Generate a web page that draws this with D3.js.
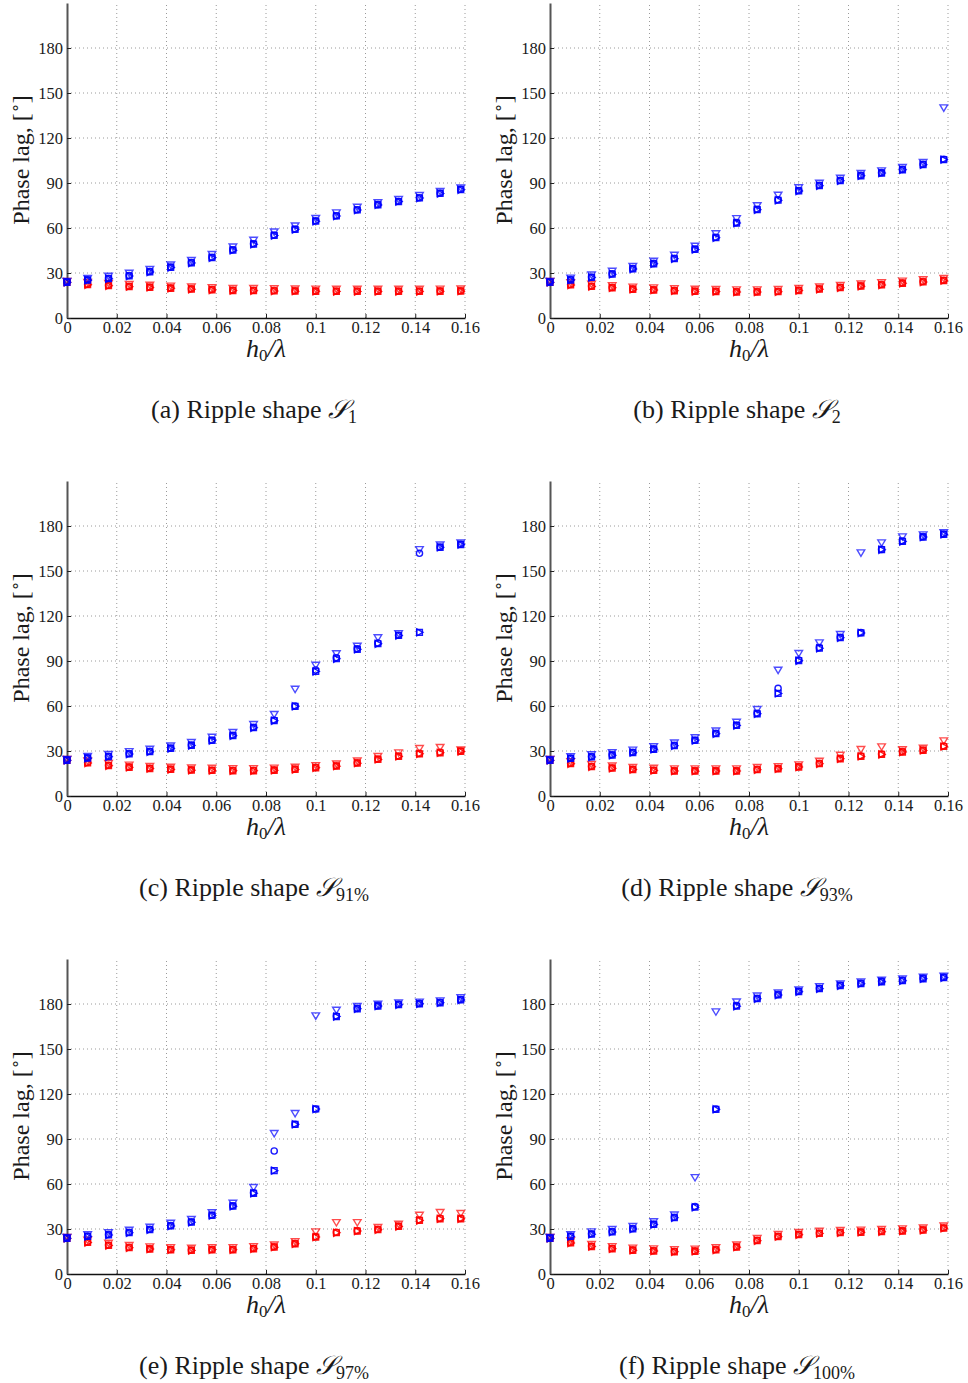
<!DOCTYPE html>
<html>
<head>
<meta charset="utf-8">
<script src="https://cdn.jsdelivr.net/npm/d3@7"></script>
<style>
  html, body { margin: 0; padding: 0; background: #fff; }
  svg { display: block; }
</style>
</head>
<body>
<svg id="fig" width="968" height="1383"></svg>
<script>
// Relative ripple height h0/lambda at which the phase lag was evaluated
const hRatio = [0, 0.0083, 0.0167, 0.025, 0.0333, 0.0417, 0.05, 0.0583, 0.0667, 0.075,
                0.0833, 0.0917, 0.1, 0.1083, 0.1167, 0.125, 0.1333, 0.1417, 0.15, 0.1583];

const xTicks = [0, 0.02, 0.04, 0.06, 0.08, 0.1, 0.12, 0.14, 0.16];
const yTicks = [0, 30, 60, 90, 120, 150, 180];

// Panel (a) ripple shape S1
const aBlueTri  = [24.5, 26.5, 28, 30, 32.5, 35.5, 38.5, 42.5, 47.5, 52, 57.5, 61.5, 66.5, 70.2, 74, 77, 79.2, 81.8, 84.5, 86.8];
const aBlueCirc = [24.2, 25.5, 26.5, 28.3, 31, 34, 37, 40.5, 45.5, 49.5, 55.3, 59.3, 64.8, 68.2, 72.2, 75.6, 77.8, 80.2, 83.3, 85.8];
const aBlueSq   = [23.8, 25.2, 26.2, 28, 30.7, 33.7, 36.7, 40.2, 45.2, 49.2, 55, 59, 64.5, 68, 72, 75.4, 77.6, 80, 83, 85.5];
const aRedTri   = [24.5, 23.8, 23.1, 22.5, 22, 21.4, 20.8, 20.3, 19.9, 19.8, 19.6, 19.5, 19.4, 19.3, 19.3, 19.3, 19.3, 19.3, 19.4, 19.5];
const aRedCirc  = [24.2, 22.5, 21.8, 21.2, 20.7, 20.1, 19.5, 19, 18.6, 18.5, 18.3, 18.2, 18.1, 18, 18, 18, 18, 18, 18.1, 18.2];
const aRedSq    = [23.8, 22.2, 21.5, 20.9, 20.4, 19.8, 19.2, 18.7, 18.3, 18.2, 18, 17.9, 17.8, 17.7, 17.7, 17.7, 17.7, 17.7, 17.8, 17.9];

// Panel (b) ripple shape S2
const bBlueTri  = [24.5, 26.7, 28.8, 31.3, 34.5, 38, 42, 48, 56.3, 66.4, 75, 82, 87, 90, 93.3, 96.5, 98.2, 100.5, 103.8, 140.2];
const bBlueCirc = [24.2, 25.6, 27.3, 29.5, 33, 36.4, 39.8, 46, 53.8, 63.6, 72.5, 78.8, 85, 88.5, 91.8, 95.1, 96.9, 99.1, 102.5, 105.8];
const bBlueSq   = [23.8, 25.3, 27, 29.2, 32.7, 36.1, 39.5, 45.7, 53.5, 63.3, 72.2, 78.5, 84.7, 88.2, 91.5, 94.8, 96.6, 98.8, 102.2, 105.6];
const bRedTri   = [24.5, 23.6, 22.6, 21.7, 20.7, 20.2, 19.7, 19.3, 19.2, 18.9, 18.9, 19.1, 19.9, 20.8, 21.8, 22.8, 23.6, 24.7, 25.6, 26.5];
const bRedCirc  = [24.2, 22.3, 21.3, 20.4, 19.4, 18.9, 18.4, 18, 17.9, 17.6, 17.6, 17.8, 18.6, 19.5, 20.5, 21.5, 22.3, 23.4, 24.3, 25.2];
const bRedSq    = [23.8, 22, 21, 20.1, 19.1, 18.6, 18.1, 17.7, 17.6, 17.3, 17.3, 17.5, 18.3, 19.2, 20.2, 21.2, 22, 23.1, 24, 24.9];

// Panel (c) ripple shape S91%
const cBlueTri  = [24.5, 26.5, 27.8, 29.7, 31.3, 33.5, 35.8, 39.3, 42.5, 47.8, 54.5, 71.3, 87.3, 95, 100, 105.6, 108.3, 164.4, 167.5, 168.8];
const cBlueCirc = [24.2, 25.5, 26.5, 28.3, 29.8, 32, 34, 37.3, 40.5, 45.8, 50.5, 60, 84, 92.2, 98.2, 102, 107.2, 161.8, 166, 167.8];
const cBlueSq   = [23.8, 25.2, 26.2, 28, 29.5, 31.7, 33.7, 37, 40.2, 45.5, 50.2, 59.8, 83, 91.5, 97.8, 101.5, 107, 109.1, 165.8, 167.6];
const cRedTri   = [24.5, 23.5, 21.8, 20.7, 19.9, 19.3, 18.8, 18.6, 18.4, 18.4, 18.7, 19.3, 20.4, 21.5, 23.5, 26.5, 28.9, 31.8, 32.5, 30.8];
const cRedCirc  = [24.2, 22.3, 20.5, 19.4, 18.6, 18, 17.5, 17.3, 17.1, 17.1, 17.4, 18, 19.1, 20.2, 22.2, 24.7, 26.7, 28.4, 29.1, 30];
const cRedSq    = [23.8, 22, 20.2, 19.1, 18.3, 17.7, 17.2, 17, 16.8, 16.8, 17.1, 17.7, 18.8, 19.9, 21.9, 24.4, 26.4, 28.1, 28.8, 29.7];

// Panel (d) ripple shape S93%
const dBlueTri  = [24.5, 26.3, 27.6, 29, 30.7, 33, 35.5, 39, 43.5, 49.3, 57.8, 84, 95.1, 102.2, 107.8, 162.2, 168.9, 172.9, 174.2, 175.7];
const dBlueCirc = [24.2, 25.3, 26.3, 27.5, 29.2, 31.4, 33.8, 37.3, 41.8, 47.3, 55.1, 71.8, 90.7, 98.9, 105.8, 108.9, 164.4, 170, 172.9, 174.7];
const dBlueSq   = [23.8, 25, 26, 27.2, 28.9, 31.1, 33.5, 37, 41.5, 47, 54.8, 68.4, 90.2, 98.5, 105.5, 108.7, 164.2, 169.7, 172.6, 174.4];
const dRedTri   = [24.5, 23, 21.1, 20.1, 19.2, 18.6, 18.2, 18.2, 18.2, 18.2, 19.1, 19.7, 20.9, 23.3, 27.3, 31.1, 32.9, 31, 32, 36.9];
const dRedCirc  = [24.2, 21.8, 19.8, 18.8, 17.9, 17.3, 16.9, 16.9, 16.9, 16.9, 17.8, 18.4, 19.6, 21.8, 25.1, 26.7, 28, 29.6, 30.7, 33.3];
const dRedSq    = [23.8, 21.5, 19.5, 18.5, 17.6, 17, 16.6, 16.6, 16.6, 16.6, 17.5, 18.1, 19.3, 21.5, 24.8, 26.4, 27.7, 29.3, 30.4, 33];

// Panel (e) ripple shape S97%
const eBlueTri  = [24.5, 26.3, 27.6, 29.3, 31.3, 34, 36.5, 41, 47.3, 57.8, 93.8, 107.1, 172.2, 176, 178.5, 180, 180.8, 181.4, 182.2, 184.3];
const eBlueCirc = [24.2, 25.3, 26.3, 27.8, 29.8, 32.3, 34.8, 39.3, 45.5, 54.2, 82, 99.8, 110, 172, 177.1, 178.9, 179.8, 180.4, 181.1, 183];
const eBlueSq   = [23.8, 25, 26, 27.5, 29.5, 32, 34.5, 39, 45.2, 53.8, 68.9, 99.8, 110, 171.6, 176.8, 178.6, 179.5, 180.1, 180.8, 182.7];
const eRedTri   = [24.5, 22.6, 20.6, 19.1, 18.2, 17.7, 17.3, 17.7, 17.7, 18.4, 19.5, 21.7, 28.2, 34.4, 34.4, 31.1, 33.3, 39.3, 41.1, 40.5];
const eRedCirc  = [24.2, 21.3, 19.3, 17.8, 16.9, 16.4, 16, 16.4, 16.4, 17.1, 18.2, 20.4, 24.9, 27.8, 28.9, 29.8, 32, 36, 37.1, 37.1];
const eRedSq    = [23.8, 21, 19, 17.5, 16.6, 16.1, 15.7, 16.1, 16.1, 16.8, 17.9, 20.1, 24.6, 27.5, 28.6, 29.5, 31.7, 35.7, 36.8, 36.8];

// Panel (f) ripple shape S100%
const fBlueTri  = [24.5, 26.3, 28.2, 29.8, 31.8, 35, 39.5, 64.4, 174.9, 181.5, 185.5, 187.5, 189.5, 191.7, 193.5, 194.8, 196, 196.8, 198, 198.6];
const fBlueCirc = [24.2, 25.3, 26.8, 28.3, 30.3, 33.3, 37.8, 45, 110, 179, 183.8, 186.3, 188.5, 190.5, 192.5, 193.8, 195.1, 195.8, 197.1, 197.8];
const fBlueSq   = [23.8, 25, 26.5, 28, 30, 33, 37.5, 44.5, 109.8, 178.5, 183.5, 186, 188.2, 190.2, 192.2, 193.5, 194.8, 195.5, 196.8, 197.5];
const fRedTri   = [24.5, 22.3, 19.9, 18.4, 17.4, 16.9, 16.4, 16.7, 17.6, 19.5, 23.8, 26.5, 27.8, 28.6, 29.1, 29.4, 29.8, 30.2, 30.8, 32.1];
const fRedCirc  = [24.2, 21, 18.6, 17.1, 16.1, 15.6, 15.1, 15.4, 16.3, 18.2, 22.5, 25.2, 26.5, 27.3, 27.8, 28.1, 28.5, 28.9, 29.5, 30.8];
const fRedSq    = [23.8, 20.7, 18.3, 16.8, 15.8, 15.3, 14.8, 15.1, 16, 17.9, 22.2, 24.9, 26.2, 27, 27.5, 27.8, 28.2, 28.6, 29.2, 30.5];

const panels = [
  { tag: "a", sub: "1",    blue: [aBlueTri, aBlueCirc, aBlueSq], red: [aRedTri, aRedCirc, aRedSq] },
  { tag: "b", sub: "2",    blue: [bBlueTri, bBlueCirc, bBlueSq], red: [bRedTri, bRedCirc, bRedSq] },
  { tag: "c", sub: "91%",  blue: [cBlueTri, cBlueCirc, cBlueSq], red: [cRedTri, cRedCirc, cRedSq] },
  { tag: "d", sub: "93%",  blue: [dBlueTri, dBlueCirc, dBlueSq], red: [dRedTri, dRedCirc, dRedSq] },
  { tag: "e", sub: "97%",  blue: [eBlueTri, eBlueCirc, eBlueSq], red: [eRedTri, eRedCirc, eRedSq] },
  { tag: "f", sub: "100%", blue: [fBlueTri, fBlueCirc, fBlueSq], red: [fRedTri, fRedCirc, fRedSq] }
];

// ---- layout ----
const colLeft = [67, 550];
const rowBase = [318, 796, 1274];
const plotW = 398, plotH = 315;
const serif = "Liberation Serif, Times New Roman, serif";

const svg = d3.select("#fig");

// marker path generators (centred on 0,0)
const markers = {
  tri:  "M-3.8,-2.8L3.8,-2.8L0,3.6Z",
  circ: "M3.1,0A3.1,3.1 0 1,1 -3.1,0A3.1,3.1 0 1,1 3.1,0Z",
  sq:   "M-2.9,-2.9L2.9,-2.9L2.9,2.9L-2.9,2.9Z",
  rtri: "M-2.7,-3.5L3.5,0L-2.7,3.5Z"
};

panels.forEach((p, k) => {
  const left = colLeft[k % 2];
  const base = rowBase[Math.floor(k / 2)];

  const x = d3.scaleLinear().domain([0, 0.16]).range([left, left + plotW]);
  const y = d3.scaleLinear().domain([0, 210]).range([base, base - plotH]);

  const g = svg.append("g");

  // dotted grid
  const grid = g.append("g")
      .attr("stroke", "#9a9a9a").attr("stroke-width", 1)
      .attr("stroke-dasharray", "1,3").attr("fill", "none");
  grid.selectAll(".gx").data(xTicks.slice(1)).join("line")
      .attr("x1", d => x(d)).attr("x2", d => x(d))
      .attr("y1", y(0)).attr("y2", y(210));
  grid.selectAll(".gy").data(yTicks.slice(1)).join("line")
      .attr("x1", x(0)).attr("x2", x(0.16))
      .attr("y1", d => y(d)).attr("y2", d => y(d));

  // axes
  const xAxis = d3.axisBottom(x).tickValues(xTicks)
      .tickFormat(d => d === 0 ? "0" : String(+d.toFixed(2)))
      .tickSizeInner(-4).tickSizeOuter(0).tickPadding(3);
  const yAxis = d3.axisLeft(y).tickValues(yTicks)
      .tickFormat(d3.format("d"))
      .tickSizeInner(-4).tickSizeOuter(0).tickPadding(4);

  const gx = g.append("g").attr("transform", `translate(0,${base})`).call(xAxis);
  const gy = g.append("g").attr("transform", `translate(${left},0)`).call(yAxis);

  [gx, gy].forEach(a => {
    a.attr("font-family", serif).attr("font-size", 16.5);
    a.selectAll("text").attr("fill", "#1a1a1a");
    a.selectAll(".tick line").attr("stroke", "#222");
  });
  gx.select(".domain").attr("stroke", "#111").attr("stroke-width", 1.3);
  gy.select(".domain").attr("stroke", "#555").attr("stroke-width", 2);

  // data markers: red series first, blue on top
  const drawSeries = (vals, shape, color, opacity) => {
    g.append("g").selectAll("path").data(vals).join("path")
      .attr("d", markers[shape])
      .attr("transform", (v, i) => `translate(${x(hRatio[i])},${y(v)})`)
      .attr("fill", "none").attr("stroke", color)
      .attr("stroke-width", 1.4).attr("stroke-opacity", opacity);
  };
  const red = "#ff0000", blue = "#0000ff";
  drawSeries(p.red[0], "tri", red, 0.7);
  drawSeries(p.red[1], "circ", red, 0.9);
  drawSeries(p.red[2], "sq", red, 0.9);
  drawSeries(p.red[2], "rtri", red, 0.9);
  drawSeries(p.blue[0], "tri", blue, 0.7);
  drawSeries(p.blue[1], "circ", blue, 0.9);
  drawSeries(p.blue[2], "sq", blue, 0.9);
  drawSeries(p.blue[2], "rtri", blue, 0.9);

  // y label
  const yl = g.append("text")
      .attr("transform", `translate(${left - 38},${base - 158}) rotate(-90)`)
      .attr("text-anchor", "middle")
      .attr("font-family", serif).attr("font-size", 24).attr("fill", "#1a1a1a");
  yl.append("tspan").text("Phase lag, [");
  yl.append("tspan").attr("font-size", 16).attr("dy", -8).text("\u2218");
  yl.append("tspan").attr("dy", 8).text("]");

  // x label  h0/λ
  const xl = g.append("text")
      .attr("x", left + plotW / 2).attr("y", base + 39)
      .attr("text-anchor", "middle")
      .attr("font-family", serif).attr("font-size", 26).attr("fill", "#1a1a1a");
  xl.append("tspan").attr("font-style", "italic").text("h");
  xl.append("tspan").attr("font-size", 17).attr("dy", 4).text("0");
  xl.append("tspan").attr("dy", -4).attr("font-style", "italic").text("/\u03bb");

  // caption
  const cap = g.append("text")
      .attr("x", left + 187).attr("y", base + 100)
      .attr("text-anchor", "middle")
      .attr("font-family", serif).attr("font-size", 26).attr("fill", "#1a1a1a");
  cap.append("tspan").text(`(${p.tag}) Ripple shape `);
  cap.append("tspan").attr("font-style", "italic").text("\ud835\udcae");
  cap.append("tspan").attr("font-size", 18).attr("dy", 5).text(p.sub);
});
</script>
</body>
</html>
